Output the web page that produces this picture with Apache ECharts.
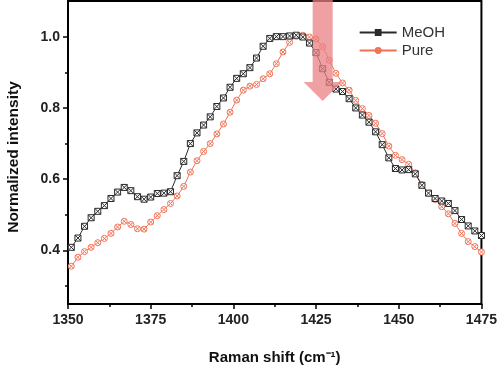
<!DOCTYPE html>
<html><head><meta charset="utf-8">
<script src="https://cdn.jsdelivr.net/npm/echarts@6/dist/echarts.min.js"></script>
<style>html,body{margin:0;padding:0;background:#fff}#c{width:500px;height:370px}</style>
</head><body><div id="c"></div>
<script>
var wavenumber = [1351,1353,1355,1357,1359,1361,1363,1365,1367,1369,1371,1373,1375,1377,1379,1381,1383,1385,1387,1389,1391,1393,1395,1397,1399,1401,1403,1405,1407,1409,1411,1413,1415,1417,1419,1421,1423,1425,1427,1429,1431,1433,1435,1437,1439,1441,1443,1445,1447,1449,1451,1453,1455,1457,1459,1461,1463,1465,1467,1469,1471,1473,1475];
var meoh = [0.409,0.435,0.468,0.492,0.510,0.526,0.546,0.564,0.577,0.568,0.551,0.544,0.550,0.560,0.561,0.565,0.610,0.650,0.700,0.730,0.752,0.775,0.804,0.828,0.858,0.883,0.896,0.913,0.940,0.973,0.995,1.000,1.000,1.002,1.004,0.999,0.982,0.955,0.910,0.872,0.853,0.846,0.826,0.800,0.780,0.760,0.733,0.697,0.660,0.630,0.626,0.627,0.615,0.583,0.561,0.546,0.539,0.532,0.512,0.487,0.469,0.455,0.442];
var pure = [0.356,0.381,0.397,0.409,0.422,0.434,0.448,0.466,0.482,0.473,0.461,0.460,0.480,0.498,0.515,0.532,0.553,0.580,0.620,0.652,0.678,0.700,0.727,0.755,0.788,0.822,0.850,0.861,0.866,0.882,0.896,0.924,0.957,0.984,1.001,1.004,0.999,0.993,0.972,0.934,0.897,0.870,0.850,0.821,0.798,0.779,0.757,0.728,0.693,0.667,0.655,0.642,0.618,0.585,0.560,0.543,0.523,0.503,0.476,0.448,0.425,0.411,0.396];
var yMajorTicks = [0.4,0.6,0.8,1.0];
var yMinorTicks = [0.3,0.5,0.7,0.9];
var seriesNames = ['MeOH','Pure'];
var arrowX = 1427;

function pairs(xs, ys){ return xs.map(function(x,i){return [x, ys[i]];}); }

var sqSym = 'path://M0,0 L10,0 L10,10 L0,10 Z M0,0 L10,10 M10,0 L0,10';
var ciSym = 'path://M0,5 A5,5 0 1,1 10,5 A5,5 0 1,1 0,5 Z M1.5,1.5 L8.5,8.5 M8.5,1.5 L1.5,8.5';
var black = '#2a2a2a', red = '#f07256';
var font = 'Liberation Sans, Arial, sans-serif';

var chart = echarts.init(document.getElementById('c'), null, {renderer:'canvas'});
var opt = {
  animation:false,
  grid:{left:68,right:16,top:1,bottom:61,show:true,borderColor:'#000',borderWidth:2,backgroundColor:'transparent'},
  legend:{
    right:50, top:20, orient:'vertical', itemWidth:37, itemHeight:6, itemGap:3,
    textStyle:{fontFamily:font,fontSize:15,color:'#333'},
    data:seriesNames
  },
  xAxis:{
    type:'value', min:1350, max:1475, interval:25,
    axisLine:{lineStyle:{color:'#000',width:2}},
    axisTick:{show:true,inside:false,length:5,lineStyle:{color:'#000',width:1.5}},
    minorTick:{show:true,splitNumber:2,length:3,lineStyle:{color:'#000',width:1.5}},
    splitLine:{show:false},
    axisLabel:{fontFamily:font,fontWeight:'bold',fontSize:14,color:'#222',margin:9,
      formatter:function(v){return String(v);}},
    name:'Raman shift (cm\u207B\u00B9)', nameLocation:'middle', nameGap:46,
    nameTextStyle:{fontFamily:font,fontWeight:'bold',fontSize:15,color:'#111'}
  },
  yAxis:[{
    type:'value', min:0.25, max:1.1,
    axisLine:{show:true,lineStyle:{color:'#000',width:2}},
    axisTick:{show:true,length:5,customValues:yMajorTicks,lineStyle:{color:'#000',width:1.5}},
    splitLine:{show:false},
    axisLabel:{customValues:yMajorTicks,fontFamily:font,fontWeight:'bold',fontSize:14,color:'#222',margin:8,
      formatter:function(v){return v.toFixed(1);}}
  },{
    type:'value', min:0.25, max:1.1, position:'left',
    axisLine:{show:false},
    axisTick:{show:true,length:3,customValues:yMinorTicks,lineStyle:{color:'#000',width:1.5}},
    splitLine:{show:false},
    axisLabel:{show:false}
  }],
  series:[{
    name:seriesNames[0], type:'line', data:pairs(wavenumber, meoh),
    symbol:sqSym, symbolSize:6, showAllSymbol:true,
    lineStyle:{color:black,width:1},
    itemStyle:{color:'#fff',borderColor:black,borderWidth:1},
    z:3
  },{
    name:seriesNames[1], type:'line', data:pairs(wavenumber, pure),
    symbol:ciSym, symbolSize:6, showAllSymbol:true,
    lineStyle:{color:red,width:1},
    itemStyle:{color:'#fff',borderColor:red,borderWidth:1},
    z:2
  }]
};
chart.setOption(opt);

var p0 = chart.convertToPixel({xAxisIndex:0,yAxisIndex:0},[arrowX,1.1]);
var cx = p0[0];
chart.setOption({
  graphic:[{
    type:'polygon', z:10,
    shape:{points:[[cx-10,0],[cx+10,0],[cx+10,82],[cx+19,82],[cx,101],[cx-19,82],[cx-10,82]]},
    style:{fill:'rgba(234,128,132,0.75)'}
  },{
    type:'text', z:10, rotation:Math.PI/2,
    x:14, y:157,
    style:{text:'Normalized intensity',font:'bold 15.5px '+font,fill:'#111',textAlign:'center',textVerticalAlign:'middle'}
  }]
});
</script></body></html>
